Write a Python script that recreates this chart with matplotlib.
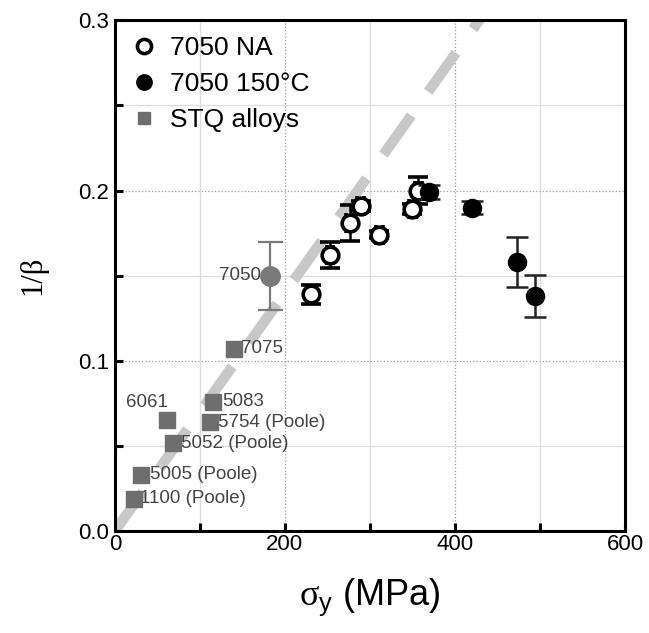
import numpy as np
import matplotlib.pyplot as plt

plt.rcParams['font.family'] = ['Liberation Sans', 'DejaVu Sans']
plt.rcParams['mathtext.fontset'] = 'custom'
plt.rcParams['mathtext.rm'] = 'Liberation Serif'
plt.rcParams['mathtext.sf'] = 'Liberation Sans'

# 7050 naturally aged (open circles)
na_x = [231, 253, 276, 289, 311, 350, 357]
na_y = [0.139, 0.162, 0.181, 0.191, 0.174, 0.189, 0.200]
na_yerr = [0.0055, 0.0075, 0.0105, 0.003, 0.002, 0.003, 0.008]

# 7050 aged at 150 C (filled circles)
hot_x = [369, 420, 473, 494]
hot_y = [0.199, 0.190, 0.158, 0.138]
hot_yerr = [0.004, 0.004, 0.0145, 0.0125]

# STQ alloys (grey squares)
stq_names = ['7075', '6061', '5083', '5754 (Poole)', '5052 (Poole)', '5005 (Poole)', '1100 (Poole)']
stq_x = [140, 61, 116, 112, 68, 31, 23]
stq_y = [0.107, 0.065, 0.076, 0.064, 0.0515, 0.033, 0.019]

# 7050 single point (grey circle)
g_x, g_y, g_err = 182, 0.150, 0.020

slope = 0.0007
line_x = np.array([0, 600])

fig = plt.figure(figsize=(6.49, 6.33), dpi=100)
ax = fig.add_axes([0.177, 0.161, 0.786, 0.807])

ax.plot(line_x, slope * line_x, color='#c8c8c8', lw=7.5, dashes=(4.6, 2.8),
        solid_capstyle='butt', dash_capstyle='butt', zorder=1)

ax.errorbar(g_x, g_y, yerr=g_err, fmt='o', ms=14, color='#7a7a7a', ecolor='#7a7a7a',
            elinewidth=1.6, capsize=9, capthick=1.6, zorder=3)

ax.errorbar(stq_x, stq_y, fmt='s', ms=11, color='#6e6e6e', zorder=3, label='STQ alloys')

ax.errorbar(na_x, na_y, yerr=na_yerr, xerr=4, fmt='o', ms=12, mfc='white', mec='black',
            mew=2.6, ecolor='black', elinewidth=1.8, capsize=7, capthick=1.8, zorder=4,
            label='7050 NA')
ax.errorbar(hot_x, hot_y, yerr=hot_yerr, fmt='o', ms=13, color='black', ecolor='#222222',
            elinewidth=1.8, capsize=8, capthick=1.8, zorder=5, label='7050 150°C')

offsets = {
    '7075': (5, 0, 'left'),
    '6061': (-14, 13, 'center'),
    '5083': (6, 0, 'left'),
    '5754 (Poole)': (6, 0, 'left'),
    '5052 (Poole)': (6, 0, 'left'),
    '5005 (Poole)': (6, 0, 'left'),
    '1100 (Poole)': (4, 0, 'left'),
}
for name, x, y in zip(stq_names, stq_x, stq_y):
    dx, dy, ha = offsets[name]
    ax.annotate(name, (x, y), xytext=(dx, dy), textcoords='offset points',
                ha=ha, va='center', fontsize=13.5, color='#444444')
ax.annotate('7050', (g_x, g_y), xytext=(-6, 0), textcoords='offset points',
            ha='right', va='center', fontsize=13.5, color='#444444')

ax.set_xlim(0, 600)
ax.set_ylim(0, 0.3)
ax.set_xticks([0, 200, 400, 600])
ax.set_xticks([100, 300, 500], minor=True)
ax.set_yticks([0.0, 0.1, 0.2, 0.3])
ax.set_yticks([0.05, 0.15, 0.25], minor=True)
ax.set_yticklabels(['0.0', '0.1', '0.2', '0.3'])

ax.grid(True, which='major', color='#999999', ls=':', lw=0.9)
ax.grid(True, which='minor', color='#dddddd', ls='-', lw=0.9)
ax.set_axisbelow(True)

for s in ax.spines.values():
    s.set_linewidth(2.2)
ax.tick_params(which='both', direction='in', width=2.2, length=6, labelsize=16)
ax.tick_params(axis='x', pad=2)
ax.tick_params(axis='y', pad=4)

ax.set_xlabel(r'$\mathrm{\sigma}_{\mathsf{y}}$ (MPa)', fontsize=26, labelpad=16)
ax.set_ylabel('1/β', fontsize=22, family='Liberation Serif', labelpad=22)

handles, labels = ax.get_legend_handles_labels()
order = [labels.index(l) for l in ['7050 NA', '7050 150°C', 'STQ alloys']]
ax.legend([handles[i][0] for i in order], [labels[i] for i in order], loc='upper left',
          frameon=False, fontsize=19, handletextpad=0.5, handlelength=1.0,
          borderaxespad=0.2, labelspacing=0.45, markerscale=0.85)

fig.savefig('out.png', dpi=100)
